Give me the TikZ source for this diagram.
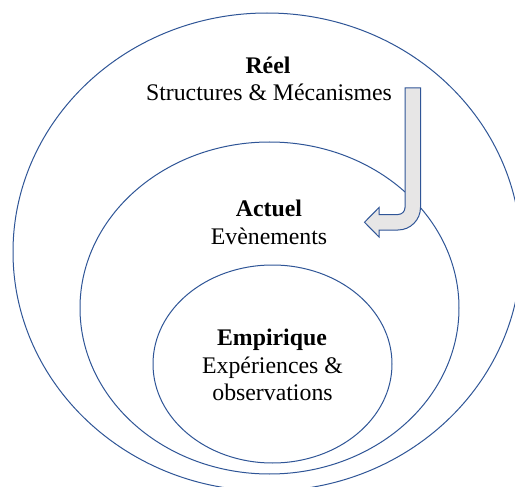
\documentclass[tikz,border=0pt]{standalone}
\usepackage{fontspec}
\setmainfont{Liberation Serif}
\definecolor{ringblue}{HTML}{2F5597}
\definecolor{arrowfill}{HTML}{E7E6E6}
\begin{document}
\begin{tikzpicture}[x=1pt,y=-1pt,
  ring/.style={draw=ringblue,line width=1pt},
  lbl/.style={anchor=base,inner sep=0pt,font=\fontsize{23.8}{28}\selectfont},
  ttl/.style={lbl,font=\fontsize{23.8}{28}\selectfont\bfseries},
  bentarrow/.style={draw=ringblue,fill=arrowfill,line width=1pt,line join=miter}]
\clip (0,0) rectangle (515,487);
\fill[white] (0,0) rectangle (515,487);
\draw[ring] (267,252) ellipse [x radius=254pt, y radius=239pt];
\draw[ring] (269.5,308) ellipse [x radius=189.5pt, y radius=166pt];
\draw[ring] (272.5,364) ellipse [x radius=119.5pt, y radius=99pt];
\draw[bentarrow] (405,88) -- (420.5,88) -- (420.5,207.5)
  .. controls (420.5,219.9) and (410.4,230) .. (398,230)
  -- (379,230) -- (379,237) -- (364.5,222.25) -- (379,207.5) -- (379,214.5) -- (398,214.5)
  .. controls (401.9,214.5) and (405,211.4) .. (405,207.5) -- cycle;
\node[ttl] (reel) at (268,74) {Réel};
\node[lbl] (reelsub) at (269,101) {Structures \& Mécanismes};
\node[ttl] (actuel) at (269,216.7) {Actuel};
\node[lbl] (actuelsub) at (269,244) {Evènements};
\node[ttl] (empirique) at (272,345) {Empirique};
\node[lbl] (empsub1) at (272.5,373) {Expériences \&};
\node[lbl] (empsub2) at (272.5,400.5) {observations};
\end{tikzpicture}
\end{document}
